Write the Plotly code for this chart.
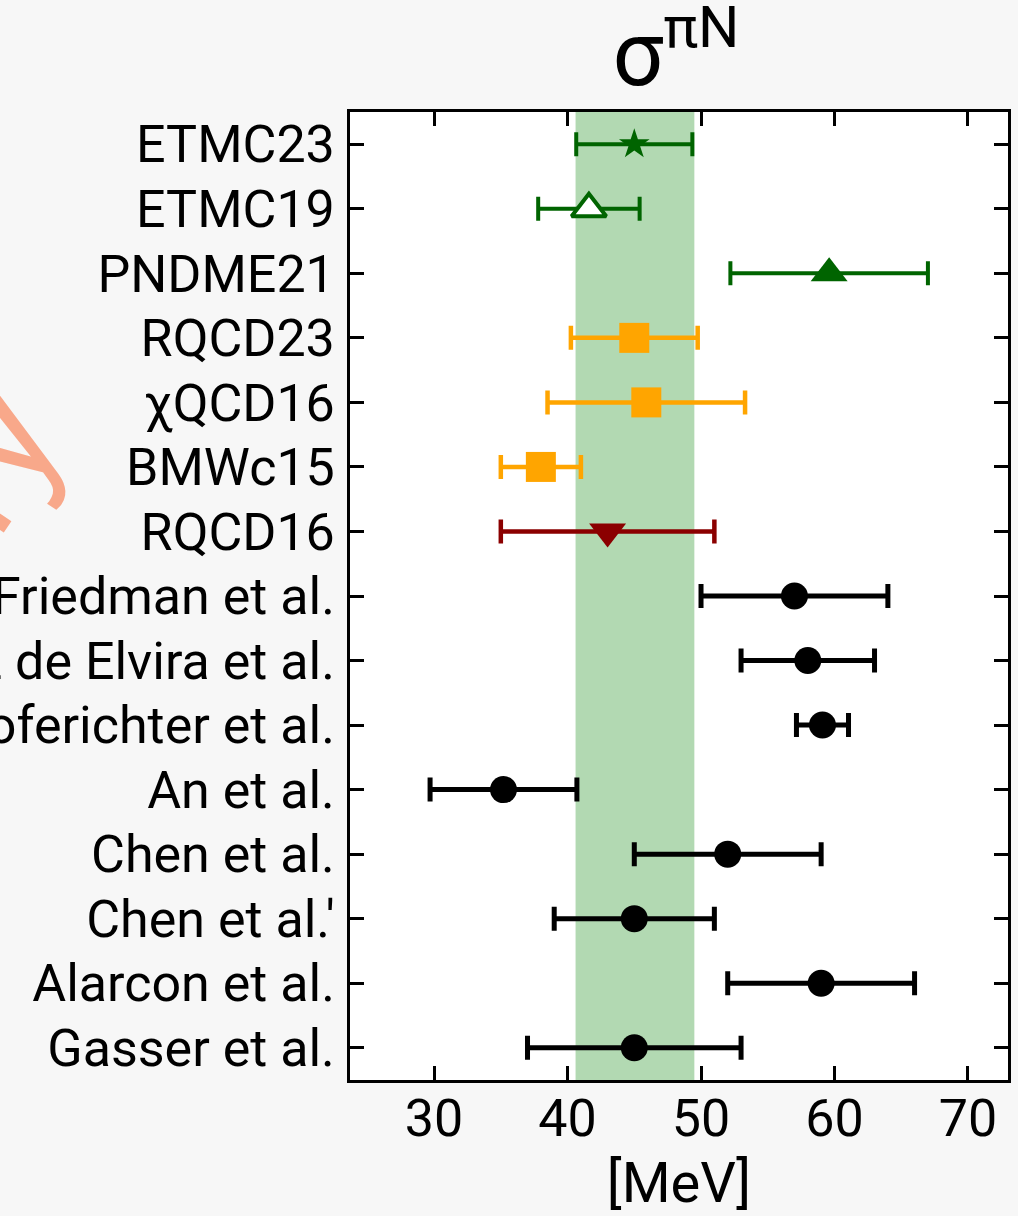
import plotly.graph_objects as go

# ---------------- data ----------------
labels = ["ETMC23", "ETMC19", "PNDME21", "RQCD23", "χQCD16", "BMWc15", "RQCD16",
          "Friedman et al.", "Ruiz de Elvira et al.", "Hoferichter et al.", "An et al.",
          "Chen et al.", "Chen et al.'", "Alarcon et al.", "Gasser et al."]
values = [45.0, 41.6, 59.6, 45.0, 45.9, 38.0, 43.0,
          57.0, 58.0, 59.1, 35.2, 52.0, 45.0, 59.0, 45.0]
errors = [4.35, 3.8, 7.4, 4.75, 7.4, 3.0, 8.0,
          7.0, 5.0, 1.95, 5.5, 7.0, 6.0, 7.0, 8.0]
colors = ["#006400", "#006400", "#006400", "#FFA500", "#FFA500", "#FFA500", "#8B0000",
          "black", "black", "black", "black", "black", "black", "black", "black"]
symbols = ["star", "triangle-up-open", "triangle-up", "square", "square", "square", "triangle-down",
           "circle", "circle", "circle", "circle", "circle", "circle", "circle", "circle"]
sizes = [23, 30, 32, 30, 30, 30, 32, 27, 27, 27, 27, 27, 27, 27, 27]
err_widths = [4, 4, 4, 4.5, 4.5, 4.5, 4.5, 5, 5, 5, 5, 5, 5, 5, 5]
band_low, band_high = 40.6, 49.5
x_ticks = [30, 40, 50, 60, 70]

fig = go.Figure()

for lab, v, e, c, s, sz, ew in zip(labels, values, errors, colors, symbols, sizes, err_widths):
    if s.endswith("-open"):
        marker = dict(color="white", symbol="triangle-up", size=sz,
                      line=dict(color=c, width=4))
    else:
        marker = dict(color=c, symbol=s, size=sz, line=dict(width=0))
    fig.add_trace(go.Scatter(
        x=[v], y=[lab], mode="markers",
        marker=marker,
        error_x=dict(type="data", array=[e], color=c, thickness=ew, width=12),
        showlegend=False, cliponaxis=False,
    ))

fig.add_shape(type="rect", xref="x", yref="paper", x0=band_low, x1=band_high,
              y0=0, y1=1, fillcolor="rgba(0,128,0,0.3)", line=dict(width=0), layer="below")

fig.add_annotation(text="Preliminary", xref="paper", yref="paper",
                   x=-0.814, y=0.37, xanchor="center", yanchor="middle",
                   textangle=-56, showarrow=False,
                   font=dict(family="Roboto", size=150, color="#F8A88A"))

axis_common = dict(showline=True, linecolor="black", linewidth=2.5, mirror="ticks",
                   ticks="inside", ticklen=14, tickwidth=2.5, tickcolor="black",
                   showgrid=False, zeroline=False)

fig.update_layout(
    width=1018, height=1216,
    paper_bgcolor="#f7f7f7", plot_bgcolor="white",
    margin=dict(l=350, r=10, t=112, b=136, autoexpand=False),
    font=dict(family="Roboto", size=52, color="black"),
    title=dict(text="σ<sup><span style='font-size:58px'>πN</span></sup>",
               x=0.664, xref="container", xanchor="center",
               y=0.982, yref="container", yanchor="top",
               font=dict(family="Roboto", size=90, color="black")),
    xaxis=dict(range=[23.7, 73.0], tickvals=x_ticks, ticktext=[str(t) for t in x_ticks],
               title=dict(text="[MeV]", standoff=30, font=dict(size=56)), automargin=False,
               ticklabelstandoff=-9, **axis_common),
    yaxis=dict(type="category", categoryarray=labels, range=[14.5, -0.5],
               automargin=False, ticklabelstandoff=2, **axis_common),
)

fig.write_html("out.html", config={"displayModeBar": False},
               post_script="document.body.style.margin='0';")
